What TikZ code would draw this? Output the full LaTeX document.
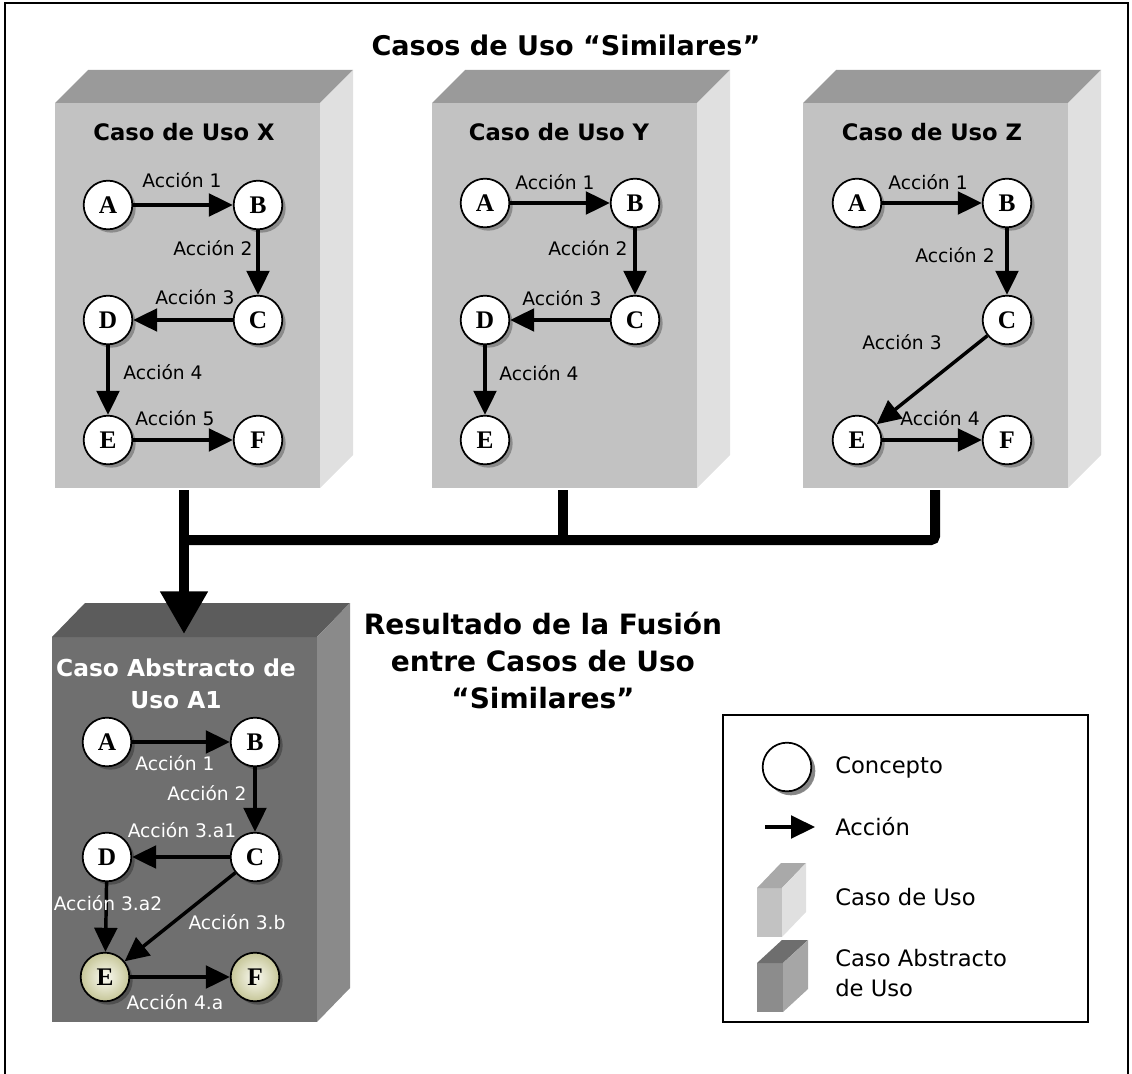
\documentclass[tikz,border=0pt]{standalone}
\usepackage{fontspec}
\setmainfont{DejaVu Sans}
\newfontfamily\letra{Liberation Serif}
\usepackage{tikz}
\usetikzlibrary{positioning, arrows.meta, shadows}
\definecolor{frenteC}{HTML}{C2C2C2}
\definecolor{techoC}{HTML}{9A9A9A}
\definecolor{ladoC}{HTML}{E0E0E0}
\definecolor{frenteA}{HTML}{6F6F6F}
\definecolor{techoA}{HTML}{5C5C5C}
\definecolor{ladoA}{HTML}{8A8A8A}
\definecolor{leyFrenteA}{HTML}{8C8C8C}
\definecolor{leyTechoA}{HTML}{6E6E6E}
\definecolor{leyLadoA}{HTML}{A6A6A6}

\begin{document}
\begin{tikzpicture}[x=0.75pt, y=-0.75pt,
    concepto/.style={circle, draw=black, line width=1.3pt, fill=white, minimum size=36.5pt, inner sep=0pt,
        font=\letra\bfseries\fontsize{19}{19}\selectfont,
        drop shadow={shadow xshift=2.5pt, shadow yshift=-2.5pt, fill=black, opacity=0.28}},
    fusionado/.style={concepto, inner color=white!85!olive!20, outer color=gray!60!olive!45},
    accion/.style={-{Triangle[length=18pt,width=17pt]}, line width=2.6pt},
    etiq/.style={font=\fontsize{14}{14}\selectfont, inner sep=0pt},
    titcaja/.style={font=\bfseries\fontsize{17}{19}\selectfont, align=center},
    titulo/.style={font=\bfseries\fontsize{21}{27.75}\selectfont, align=center},
    leyenda/.style={font=\fontsize{17}{22.5}\selectfont, anchor=west, align=left, inner sep=0pt},
    grueso/.style={line width=7.5pt}]
    \useasboundingbox (0,0) rectangle (1132,1074);
    \draw[line width=1.5pt] (5,1074) -- (5,3) -- (1128,3) -- (1128,1074);

    \node[titulo, font=\bfseries\fontsize{20.3}{24}\selectfont] (titsup) at (566,45) {Casos de Uso “Similares”};

    % cajas de los casos de uso
    \foreach \x in {55,432,803} {
        \fill[frenteC] (\x,103) rectangle ++(265,385);
        \fill[techoC] (\x,103) -- ++(33,-33) -- ++(265,0) -- ++(-33,33) -- cycle;
        \fill[ladoC] ({\x+265},103) -- ++(33,-33) -- ++(0,385) -- ++(-33,33) -- cycle;
    }
    % caja del caso abstracto
    \fill[frenteA] (52,637) rectangle ++(265,385);
    \fill[techoA] (52,637) -- ++(33,-34) -- ++(265,0) -- ++(-33,34) -- cycle;
    \fill[ladoA] (317,637) -- ++(33,-34) -- ++(0,385) -- ++(-33,34) -- cycle;

    % Caso de Uso X
    \node[titcaja] (titX) at (184,132) {Caso de Uso X};
    \node[concepto] (xA) at (108,205) {A};
    \node[concepto] (xB) at (258,205) {B};
    \node[concepto] (xC) at (258,320) {C};
    \node[concepto] (xD) at (108,320) {D};
    \node[concepto] (xE) at (108,440) {E};
    \node[concepto] (xF) at (258,440) {F};
    \draw[accion] (xA) -- (xB);
    \draw[accion] (xB) -- (xC);
    \draw[accion] (xC) -- (xD);
    \draw[accion] (xD) -- (xE);
    \draw[accion] (xE) -- (xF);
    \node[etiq] (x1) at (182,180) {Acción 1};
    \node[etiq] (x2) at (213,248) {Acción 2};
    \node[etiq] (x3) at (195,297) {Acción 3};
    \node[etiq] (x4) at (163,372) {Acción 4};
    \node[etiq] (x5) at (175,418) {Acción 5};

    % Caso de Uso Y
    \node[titcaja] (titY) at (559,132) {Caso de Uso Y};
    \node[concepto] (yA) at (485,203) {A};
    \node[concepto] (yB) at (635,203) {B};
    \node[concepto] (yC) at (635,320) {C};
    \node[concepto] (yD) at (485,320) {D};
    \node[concepto] (yE) at (485,440) {E};
    \draw[accion] (yA) -- (yB);
    \draw[accion] (yB) -- (yC);
    \draw[accion] (yC) -- (yD);
    \draw[accion] (yD) -- (yE);
    \node[etiq] (y1) at (555,182) {Acción 1};
    \node[etiq] (y2) at (588,248) {Acción 2};
    \node[etiq] (y3) at (562,298) {Acción 3};
    \node[etiq] (y4) at (539,373) {Acción 4};

    % Caso de Uso Z
    \node[titcaja] (titZ) at (932,132) {Caso de Uso Z};
    \node[concepto] (zA) at (857,203) {A};
    \node[concepto] (zB) at (1007,203) {B};
    \node[concepto] (zC) at (1007,320) {C};
    \node[concepto] (zE) at (857,440) {E};
    \node[concepto] (zF) at (1007,440) {F};
    \draw[accion] (zA) -- (zB);
    \draw[accion] (zB) -- (zC);
    \draw[accion] (zC) -- (zE);
    \draw[accion] (zE) -- (zF);
    \node[etiq] (z1) at (928,182) {Acción 1};
    \node[etiq] (z2) at (955,255) {Acción 2};
    \node[etiq] (z3) at (902,342) {Acción 3};
    \node[etiq] (z4) at (940,418) {Acción 4};

    % fusion
    \coordinate (salX) at (184,490);
    \coordinate (salY) at (563,490);
    \coordinate (salZ) at (935,490);
    \coordinate (union) at (184,540);
    \coordinate (llegada) at (184,634);
    \draw[grueso, rounded corners=3pt] (salZ) |- (union);
    \draw[grueso] (salY) -- (salY |- union);
    \draw[grueso, -{Triangle[length=32pt,width=34pt]}] (salX) -- (llegada);

    \node[titulo] (titres) at (543,660) {Resultado de la Fusión\\entre Casos de Uso\\“Similares”};

    % Caso Abstracto de Uso A1
    \node[titcaja, text=white, font=\bfseries\fontsize{17.5}{24}\selectfont] (titA) at (176,684) {Caso Abstracto de\\Uso A1};
    \node[concepto] (aA) at (107,742) {A};
    \node[concepto] (aB) at (255,742) {B};
    \node[concepto] (aC) at (255,857) {C};
    \node[concepto] (aD) at (107,857) {D};
    \node[fusionado] (aE) at (105,977) {E};
    \node[fusionado] (aF) at (255,977) {F};
    \draw[accion] (aA) -- (aB);
    \draw[accion] (aB) -- (aC);
    \draw[accion] (aC) -- (aD);
    \draw[accion] (aD) -- (aE);
    \draw[accion] (aC) -- (aE);
    \draw[accion] (aE) -- (aF);
    \begin{scope}[every node/.append style={text=white}]
        \node[etiq] (a1) at (175,763) {Acción 1};
        \node[etiq] (a2) at (207,793) {Acción 2};
        \node[etiq] (a3a1) at (182,830) {Acción 3.a1};
        \node[etiq] (a3a2) at (108,903) {Acción 3.a2};
        \node[etiq] (a3b) at (237,922) {Acción 3.b};
        \node[etiq] (a4a) at (175,1002) {Acción 4.a};
    \end{scope}

    % leyenda
    \draw[line width=1pt] (723,715) rectangle (1088,1022);
    \node[concepto, drop shadow={shadow xshift=3pt, shadow yshift=-3pt, fill=gray, opacity=0.9}] (leyC) at (787,767) {};
    \node[leyenda] (leyCt) at (835,767) {Concepto};
    \coordinate (leyA1) at (765,827);
    \coordinate (leyA2) at (815,827);
    \draw[accion] (leyA1) -- (leyA2);
    \node[leyenda] (leyAt) at (835,827) {Acción};
    \fill[frenteC] (757,888) rectangle (782,937);
    \fill[techoC!85!white] (757,888) -- ++(24,-25) -- ++(25,0) -- ++(-24,25) -- cycle;
    \fill[ladoC] (782,888) -- ++(24,-25) -- ++(0,49) -- ++(-24,25) -- cycle;
    \node[leyenda] (leyUt) at (835,897) {Caso de Uso};
    \fill[leyFrenteA] (757,963) rectangle (783,1012);
    \fill[leyTechoA] (757,963) -- ++(25,-23) -- ++(26,0) -- ++(-25,23) -- cycle;
    \fill[leyLadoA] (783,963) -- ++(25,-23) -- ++(0,49) -- ++(-25,23) -- cycle;
    \node[leyenda] (leyAbt) at (835,973) {Caso Abstracto\\de Uso};
\end{tikzpicture}
\end{document}
